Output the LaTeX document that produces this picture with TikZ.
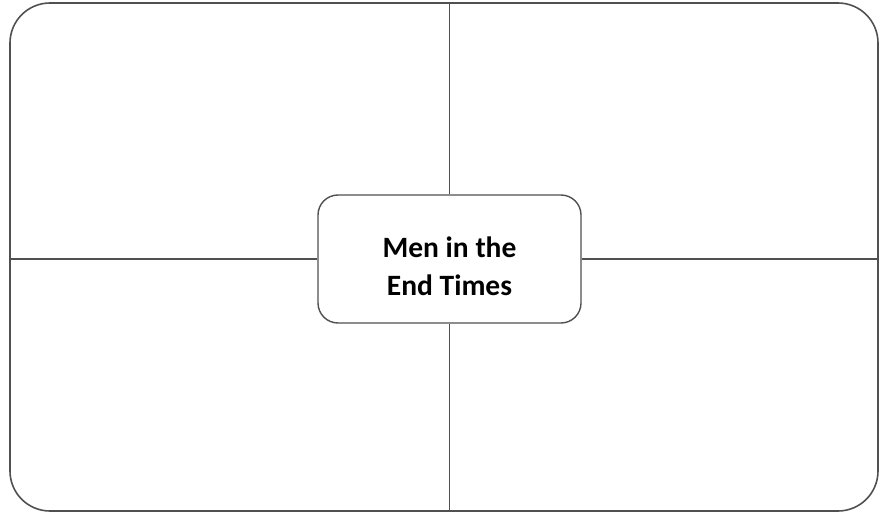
\documentclass[tikz,border=0pt]{standalone}
\usepackage{fontspec}
\setmainfont{Carlito}
\usepackage{tikz}
\usetikzlibrary{positioning}
\definecolor{linegray}{HTML}{505050}

\begin{document}
\begin{tikzpicture}[x=1pt, y=-1pt,
    frame/.style={draw=linegray, line width=1.6pt, rounded corners=40pt, minimum width=868pt, minimum height=508pt, inner sep=0pt},
    topic/.style={draw=linegray, line width=1.4pt, fill=white, rounded corners=20pt, minimum width=263pt, minimum height=128pt, inner sep=0pt},
    title/.style={align=center, inner sep=0pt, font=\bfseries\fontsize{29.5}{38}\selectfont},
    divider/.style={draw=linegray, line width=1.2pt}]
\useasboundingbox (0,0) rectangle (881,516);
\node[frame] (frame) at (444,257) {};
\node[topic] (topic) at (449.5,259) {};
\node[title, yshift=-7.5pt] (title) at (topic.center) {Men in the\\End Times};
\draw[divider] (topic.north) -- (topic.north |- frame.north);
\draw[divider] (topic.south) -- (topic.south |- frame.south);
\draw[divider] (topic.west) -- (topic.west -| frame.west);
\draw[divider] (topic.east) -- (topic.east -| frame.east);
\end{tikzpicture}
\end{document}
